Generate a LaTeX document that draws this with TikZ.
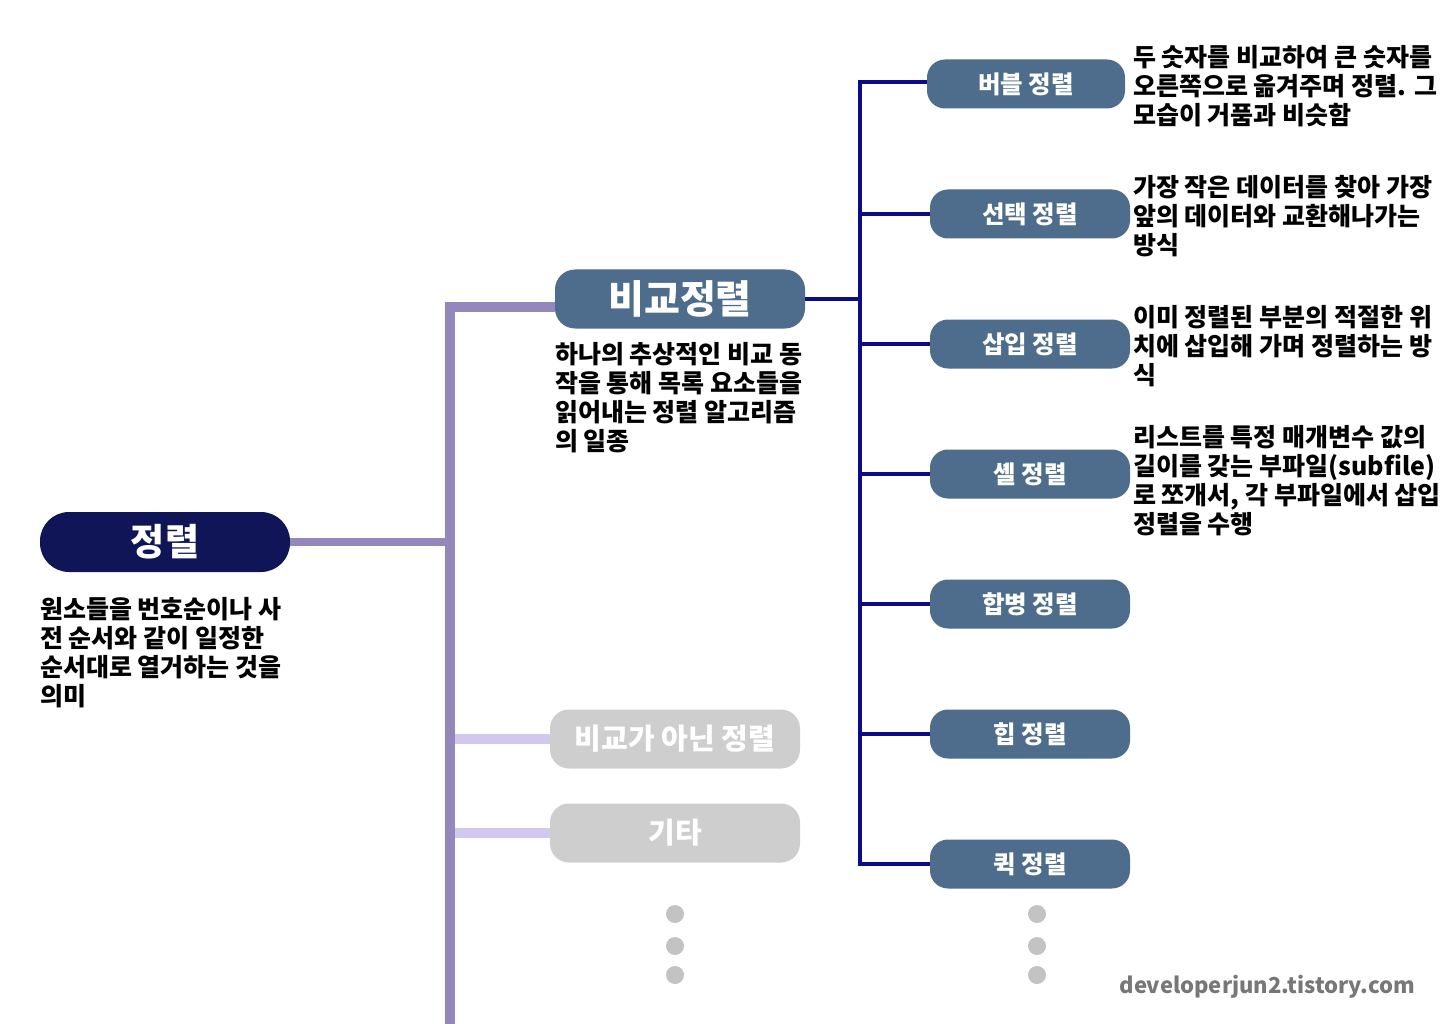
\documentclass[tikz,border=0pt]{standalone}
\usepackage{fontspec}
\setmainfont{Noto Sans CJK KR}
\usetikzlibrary{calc}
\definecolor{rootc}{HTML}{0F1557}
\definecolor{nodec}{HTML}{4E6D8C}
\definecolor{navyc}{HTML}{0C0C8A}
\definecolor{purc}{HTML}{9387BB}
\definecolor{lpurc}{HTML}{D1C7EF}
\definecolor{grayc}{HTML}{CECECE}
\definecolor{dotc}{HTML}{C3C3C3}
\definecolor{wmc}{HTML}{777777}
\tikzset{
  rootbox/.style={fill=rootc, rounded corners=29pt, minimum width=250pt, minimum height=60pt, text=white, font=\fontsize{37}{42}\selectfont\bfseries, inner sep=0},
  midbox/.style={fill=nodec, rounded corners=20pt, minimum width=250pt, minimum height=59pt, text=white, font=\fontsize{39}{44}\selectfont\bfseries, inner sep=0},
  graybox/.style={fill=grayc, rounded corners=19pt, minimum width=250pt, minimum height=59pt, text=white, font=\fontsize{29}{34}\selectfont\bfseries, inner sep=0},
  leafbox/.style={fill=nodec, rounded corners=18pt, minimum width=200pt, minimum height=49pt, text=white, font=\fontsize{24.5}{29}\selectfont\bfseries, inner sep=0},
  desc/.style={anchor=north west, align=left, inner sep=0, font=\fontsize{25}{29}\selectfont\bfseries, text=black},
  purline/.style={draw=purc, line width=10pt},
  rootline/.style={draw=purc, line width=8.5pt},
  lpurline/.style={draw=lpurc, line width=9.5pt},
  navyline/.style={draw=navyc, line width=4.5pt},
  dotfill/.style={fill=dotc, draw=none, circle, minimum size=18pt, inner sep=0},
}
\begin{document}
\begin{tikzpicture}[x=1pt,y=-1pt]
\useasboundingbox (0,0) rectangle (1440,1024);
\fill[white] (0,0) rectangle (1440,1024);

% coordinates for connector ends
\coordinate (ptop) at (450,307);
\coordinate (pbot) at (450,1024);
\coordinate (ntop) at (860,82);
\coordinate (nbot) at (860,862);

% purple trunk
\draw[purline] (ptop) -- (pbot);

% nodes
\node[rootbox] (root) at (165,542) {정렬};
\node[midbox] (cmp) at (680,299) {비교정렬};
\node[graybox] (noncmp) at (675,739) {비교가 아닌 정렬};
\node[graybox] (etc) at (675,833) {기타};

\node[leafbox, minimum width=198pt] (bubble) at (1026,84) {버블 정렬};
\node[leafbox] (select) at (1030,214) {선택 정렬};
\node[leafbox] (insert) at (1030,344) {삽입 정렬};
\node[leafbox] (shell) at (1030,474) {셸 정렬};
\node[leafbox] (merge) at (1030,604) {합병 정렬};
\node[leafbox] (heap) at (1030,734) {힙 정렬};
\node[leafbox] (quick) at (1030,864) {퀵 정렬};

% purple connectors
\draw[rootline] (root.east) -- (root.east -| pbot);
\draw[purline] ([xshift=-5pt]ptop) -- (ptop -| cmp.west);
\draw[lpurline] ([xshift=5pt]pbot |- noncmp.west) -- (noncmp.west);
\draw[lpurline] ([xshift=5pt]pbot |- etc.west) -- (etc.west);

% navy connectors
\draw[navyline] (cmp.east) -- (cmp.east -| ntop);
\draw[navyline] ([yshift=2pt]ntop) -- ([yshift=-2pt]nbot);
\draw[navyline] ([xshift=-2pt]ntop) -- (ntop -| bubble.west);
\foreach \n in {select,insert,shell,merge,heap,quick}{
  \draw[navyline] ($(ntop |- \n.west)+(-2,0)$) -- (\n.west);
}

% descriptions
\node[desc] (d0) at (40,597) {원소들을 번호순이나 사\\전 순서와 같이 일정한\\순서대로 열거하는 것을\\의미};
\node[desc] (d1) at (555,342) {하나의 추상적인 비교 동\\작을 통해 목록 요소들을\\읽어내는 정렬 알고리즘\\의 일종};
\node[desc] (d2) at (1133,45) {두 숫자를 비교하여 큰 숫자를\\오른쪽으로 옮겨주며 정렬. 그\\모습이 거품과 비슷함};
\node[desc] (d3) at (1133,175) {가장 작은 데이터를 찾아 가장\\앞의 데이터와 교환해나가는\\방식};
\node[desc] (d4) at (1133,305) {이미 정렬된 부분의 적절한 위\\치에 삽입해 가며 정렬하는 방\\식};
\node[desc] (d5) at (1133,425) {리스트를 특정 매개변수 값의\\길이를 갖는 부파일(subfile)\\로 쪼개서, 각 부파일에서 삽입\\정렬을 수행};

% dots
\node[dotfill] (a1) at (675,914) {};
\node[dotfill] (a2) at (675,946) {};
\node[dotfill] (a3) at (675,975) {};
\node[dotfill] (b1) at (1037,914) {};
\node[dotfill] (b2) at (1037,946) {};
\node[dotfill] (b3) at (1037,975) {};

% watermark
\node[anchor=base east, inner sep=0, text=wmc, font=\fontsize{22}{26}\selectfont\bfseries] (wm) at (1415,993) {developerjun2.tistory.com};
\end{tikzpicture}
\end{document}
